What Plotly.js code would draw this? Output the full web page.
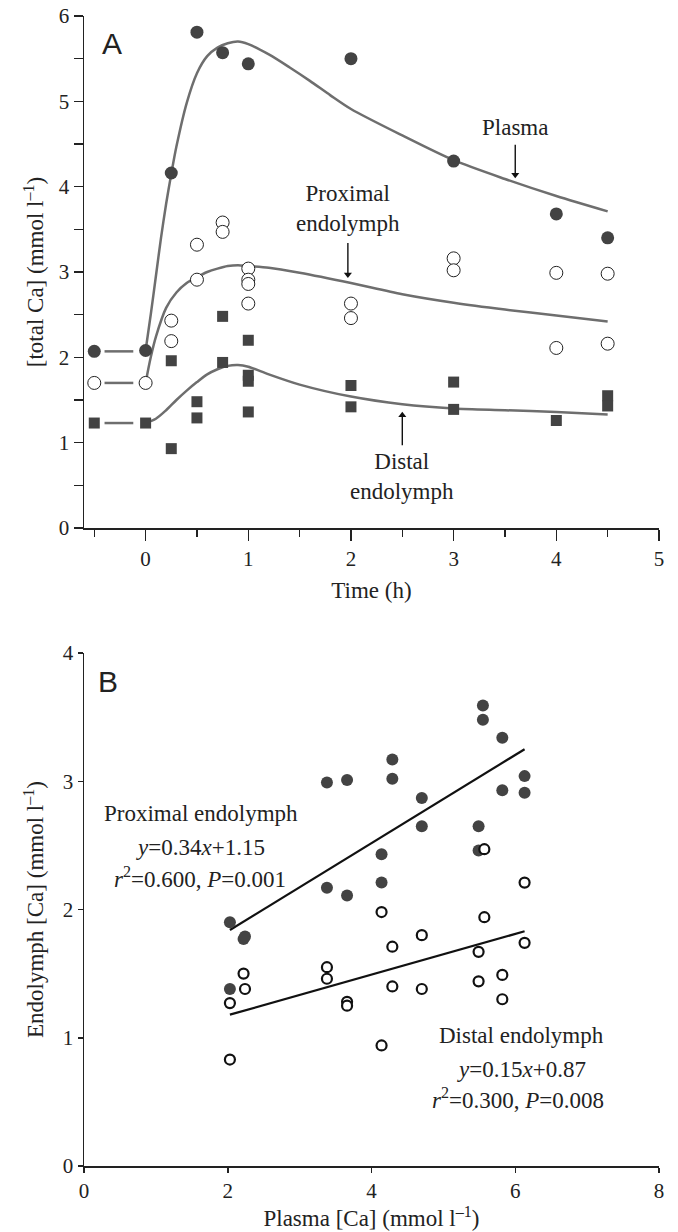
<!DOCTYPE html>
<html>
<head>
<meta charset="utf-8">
<script src="https://cdn.plot.ly/plotly-3.0.1.min.js"></script>
<style>html,body{margin:0;padding:0;background:#fff;}#chart{width:678px;height:1232px;}</style>
</head>
<body>
<div id="chart"></div>
<script>
// ---------- Panel A data ----------
const plasmaX = [-0.5, 0, 0.25, 0.5, 0.75, 1, 2, 3, 4, 4.5];
const plasmaY = [2.07, 2.08, 4.16, 5.81, 5.57, 5.44, 5.50, 4.30, 3.68, 3.40];
const proxX = [-0.5, 0, 0.25, 0.25, 0.5, 0.5, 0.75, 0.75, 1, 1, 1, 1, 2, 2, 3, 3, 4, 4, 4.5, 4.5];
const proxY = [1.70, 1.70, 2.43, 2.19, 3.32, 2.91, 3.58, 3.47, 3.04, 2.91, 2.86, 2.63, 2.63, 2.46, 3.16, 3.02, 2.99, 2.11, 2.98, 2.16];
const distX = [-0.5, 0, 0.25, 0.25, 0.5, 0.5, 0.75, 0.75, 1, 1, 1, 1, 2, 2, 3, 3, 4, 4.5, 4.5];
const distY = [1.23, 1.23, 1.96, 0.93, 1.48, 1.29, 2.48, 1.94, 2.20, 1.79, 1.72, 1.36, 1.67, 1.42, 1.71, 1.39, 1.26, 1.55, 1.43];

// fitted curves
const plasmaCurveX = [0, 0.05, 0.1, 0.15, 0.2, 0.25, 0.3, 0.4, 0.5, 0.6, 0.7, 0.8, 0.9, 1.0, 1.2, 1.4, 1.6, 1.8, 2.0, 2.5, 3.0, 3.5, 4.0, 4.5];
const plasmaCurveY = [2.08, 2.5, 2.95, 3.4, 3.8, 4.15, 4.47, 4.98, 5.33, 5.53, 5.63, 5.68, 5.70, 5.67, 5.55, 5.40, 5.24, 5.07, 4.91, 4.60, 4.31, 4.09, 3.89, 3.71];
const proxCurveX = [0, 0.05, 0.1, 0.2, 0.3, 0.4, 0.5, 0.6, 0.7, 0.8, 0.9, 1.0, 1.2, 1.5, 2.0, 2.5, 3.0, 3.5, 4.0, 4.5];
const proxCurveY = [1.70, 2.0, 2.24, 2.58, 2.76, 2.87, 2.94, 3.00, 3.04, 3.07, 3.08, 3.07, 3.05, 2.99, 2.87, 2.74, 2.64, 2.56, 2.49, 2.42];
const distCurveX = [0, 0.1, 0.2, 0.3, 0.4, 0.5, 0.6, 0.7, 0.8, 0.9, 1.0, 1.2, 1.5, 2.0, 2.5, 3.0, 3.5, 4.0, 4.5];
const distCurveY = [1.23, 1.28, 1.38, 1.50, 1.61, 1.71, 1.80, 1.86, 1.90, 1.91, 1.89, 1.80, 1.68, 1.54, 1.45, 1.40, 1.38, 1.36, 1.33];
const baselineX = [-0.4, -0.12];
const baselineLevels = [2.07, 1.70, 1.23];

const yTickValsA = [0, 1, 2, 3, 4, 5, 6];
const xTickValsA = [0, 1, 2, 3, 4, 5];

// ---------- Panel B data ----------
const bProxX = [2.03, 2.03, 2.22, 2.24, 3.38, 3.38, 3.66, 3.66, 4.14, 4.14, 4.29, 4.29, 4.70, 4.70, 5.49, 5.49, 5.55, 5.55, 5.82, 5.82, 6.13, 6.13];
const bProxY = [1.90, 1.38, 1.77, 1.79, 2.99, 2.17, 3.01, 2.11, 2.43, 2.21, 3.17, 3.02, 2.87, 2.65, 2.65, 2.46, 3.59, 3.48, 3.34, 2.93, 3.04, 2.91];
const bDistX = [2.03, 2.03, 2.22, 2.24, 3.38, 3.38, 3.66, 3.66, 4.14, 4.14, 4.29, 4.29, 4.70, 4.70, 5.49, 5.49, 5.57, 5.57, 5.82, 5.82, 6.13, 6.13];
const bDistY = [1.27, 0.83, 1.50, 1.38, 1.55, 1.46, 1.28, 1.25, 1.98, 0.94, 1.71, 1.40, 1.80, 1.38, 1.67, 1.44, 2.47, 1.94, 1.49, 1.30, 2.21, 1.74];
const fitX = [2.03, 6.13];
const proxFitY = [1.84, 3.25];
const distFitY = [1.18, 1.83];
const xTickValsB = [0, 2, 4, 6, 8];
const yTickValsB = [0, 1, 2, 3, 4];

const serif = 'Liberation Serif, Times New Roman, serif';
const sans = 'Liberation Sans, Arial, sans-serif';
const ink = '#222';
const curveCol = '#6e6e6e';
const dark = '#434343';
const TICK = 21, TITLE = 23, NOTE = 23;

const traces = [];
baselineLevels.forEach(v => traces.push({x: baselineX, y: [v, v], mode: 'lines', line: {color: curveCol, width: 2.5}, xaxis: 'x', yaxis: 'y'}));
traces.push({x: plasmaCurveX, y: plasmaCurveY, mode: 'lines', line: {color: curveCol, width: 2.5, shape: 'spline', smoothing: 0.8}, xaxis: 'x', yaxis: 'y'});
traces.push({x: proxCurveX, y: proxCurveY, mode: 'lines', line: {color: curveCol, width: 2.5, shape: 'spline', smoothing: 0.8}, xaxis: 'x', yaxis: 'y'});
traces.push({x: distCurveX, y: distCurveY, mode: 'lines', line: {color: curveCol, width: 2.5, shape: 'spline', smoothing: 0.8}, xaxis: 'x', yaxis: 'y'});
traces.push({x: plasmaX, y: plasmaY, mode: 'markers', marker: {symbol: 'circle', size: 13, color: dark, line: {width: 0}}, xaxis: 'x', yaxis: 'y'});
traces.push({x: proxX, y: proxY, mode: 'markers', marker: {symbol: 'circle', size: 13, color: '#fff', line: {color: ink, width: 1}}, xaxis: 'x', yaxis: 'y'});
traces.push({x: distX, y: distY, mode: 'markers', marker: {symbol: 'square', size: 11, color: dark, line: {width: 0}}, xaxis: 'x', yaxis: 'y'});

// label arrows (panel A)
function arrow(x, yTail, yHead, dir) {
  traces.push({x: [x, x], y: [yTail, yHead], mode: 'lines', line: {color: '#111', width: 1.4}, xaxis: 'x', yaxis: 'y'});
  traces.push({x: [x], y: [yHead], mode: 'markers', marker: {symbol: dir, size: 7, color: '#111', line: {width: 0}}, xaxis: 'x', yaxis: 'y'});
}
arrow(3.6, 4.49, 4.14, 'triangle-down');
arrow(1.97, 3.34, 2.97, 'triangle-down');
arrow(2.5, 0.97, 1.32, 'triangle-up');

traces.push({x: fitX, y: proxFitY, mode: 'lines', line: {color: '#111', width: 2.2}, xaxis: 'x2', yaxis: 'y2'});
traces.push({x: fitX, y: distFitY, mode: 'lines', line: {color: '#111', width: 2.2}, xaxis: 'x2', yaxis: 'y2'});
traces.push({x: bProxX, y: bProxY, mode: 'markers', marker: {symbol: 'circle', size: 12, color: dark, line: {width: 0}}, xaxis: 'x2', yaxis: 'y2'});
traces.push({x: bDistX, y: bDistY, mode: 'markers', marker: {symbol: 'circle', size: 10, color: '#fff', line: {color: '#111', width: 2.2}}, xaxis: 'x2', yaxis: 'y2'});

const axBase = {
  showgrid: false, zeroline: false, showline: true, linecolor: ink, linewidth: 1.5,
  ticks: 'outside', tickcolor: ink, tickwidth: 1.5, automargin: false,
  tickfont: {family: serif, size: TICK, color: ink}
};
const xDom = [84/678, 659/678];
const tfont = {family: serif, size: TITLE, color: ink};
const nfont = {family: serif, size: NOTE, color: ink};

const layout = {
  width: 678, height: 1232,
  margin: {l: 0, r: 0, t: 0, b: 0},
  paper_bgcolor: '#fff', plot_bgcolor: '#fff',
  showlegend: false,
  hovermode: false,
  xaxis: Object.assign({}, axBase, {
    domain: xDom, range: [-0.6, 5], anchor: 'y', tickvals: xTickValsA, ticklen: 11,
    minor: {dtick: 0.5, tick0: 0, ticklen: 7, tickcolor: ink, tickwidth: 1.5, ticks: 'outside'},
    title: {text: 'Time (h)', font: tfont, standoff: 12}
  }),
  yaxis: Object.assign({}, axBase, {
    domain: [1 - 528/1232, 1 - 16/1232], range: [0, 6], anchor: 'x',
    tickvals: yTickValsA, ticklen: 9,
    minor: {dtick: 0.5, tick0: 0, ticklen: 9, tickcolor: ink, tickwidth: 1.5, ticks: 'outside'},
    title: {text: '[total Ca] (mmol l<sup>–1</sup>)', font: tfont, standoff: 8}
  }),
  xaxis2: Object.assign({}, axBase, {
    domain: xDom, range: [0, 8], anchor: 'y2', tickvals: xTickValsB, ticklen: 5,
    title: {text: 'Plasma [Ca] (mmol l<sup>–1</sup>)', font: tfont, standoff: 6}
  }),
  yaxis2: Object.assign({}, axBase, {
    domain: [1 - 1166/1232, 1 - 653/1232], range: [0, 4], anchor: 'x2', tickvals: yTickValsB, ticklen: 5,
    title: {text: 'Endolymph [Ca] (mmol l<sup>–1</sup>)', font: tfont, standoff: 12}
  }),
  annotations: [
    {text: 'A', xref: 'paper', yref: 'paper', x: 112/678, y: 1 - 44/1232, showarrow: false, xanchor: 'center', yanchor: 'middle', font: {family: sans, size: 30, color: ink}},
    {text: 'B', xref: 'paper', yref: 'paper', x: 108/678, y: 1 - 681/1232, showarrow: false, xanchor: 'center', yanchor: 'middle', font: {family: sans, size: 30, color: ink}},
    // Panel A labels
    {text: 'Plasma', xref: 'x', yref: 'y', x: 3.6, y: 4.69, showarrow: false, xanchor: 'center', yanchor: 'middle', font: nfont},
    {text: 'Proximal<br>endolymph', xref: 'x', yref: 'y', x: 1.97, y: 3.75, showarrow: false, xanchor: 'center', yanchor: 'middle', font: nfont},
    {text: 'Distal<br>endolymph', xref: 'x', yref: 'y', x: 2.5, y: 0.60, showarrow: false, xanchor: 'center', yanchor: 'middle', font: nfont},
    // Panel B labels
    {text: 'Proximal endolymph', xref: 'paper', yref: 'paper', x: 201/678, y: 1 - 813/1232, showarrow: false, xanchor: 'center', yanchor: 'middle', font: nfont},
    {text: '<i>y</i>=0.34<i>x</i>+1.15', xref: 'paper', yref: 'paper', x: 200/678, y: 1 - 847/1232, showarrow: false, xanchor: 'center', yanchor: 'middle', font: nfont},
    {text: '<i>r</i><sup>2</sup>=0.600, <i>P</i>=0.001', xref: 'paper', yref: 'paper', x: 200/678, y: 1 - 877/1232, showarrow: false, xanchor: 'center', yanchor: 'middle', font: nfont},
    {text: 'Distal endolymph', xref: 'paper', yref: 'paper', x: 521/678, y: 1 - 1035/1232, showarrow: false, xanchor: 'center', yanchor: 'middle', font: nfont},
    {text: '<i>y</i>=0.15<i>x</i>+0.87', xref: 'paper', yref: 'paper', x: 521/678, y: 1 - 1069/1232, showarrow: false, xanchor: 'center', yanchor: 'middle', font: nfont},
    {text: '<i>r</i><sup>2</sup>=0.300, <i>P</i>=0.008', xref: 'paper', yref: 'paper', x: 518/678, y: 1 - 1098/1232, showarrow: false, xanchor: 'center', yanchor: 'middle', font: nfont}
  ]
};

Plotly.newPlot('chart', traces, layout, {displayModeBar: false, staticPlot: true});
</script>
</body>
</html>
